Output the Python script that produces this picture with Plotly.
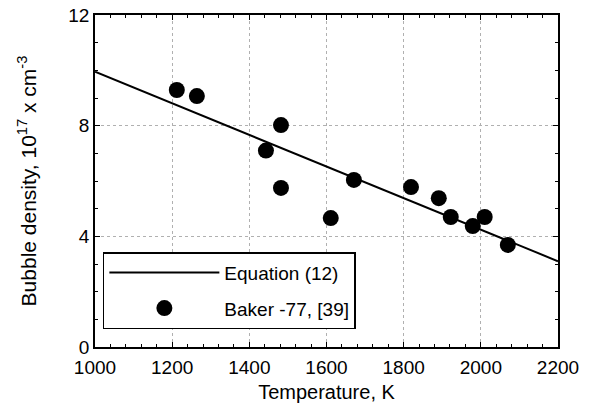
import plotly.graph_objects as go

# Equation (12) line endpoints
eq_temp = [1000, 2200]
eq_density = [9.95, 3.1]

# Baker -77, [39] data
baker_temp = [1212, 1264, 1443, 1482, 1482, 1611, 1671, 1819, 1891, 1922, 1979, 2010, 2070]
baker_density = [9.29, 9.07, 7.10, 8.02, 5.75, 4.66, 6.04, 5.78, 5.38, 4.70, 4.37, 4.70, 3.69]

x_ticks = [1000, 1200, 1400, 1600, 1800, 2000, 2200]
y_ticks = [0, 4, 8, 12]

FONT = "Liberation Sans, Arial, sans-serif"

fig = go.Figure()
fig.add_trace(go.Scatter(
    x=eq_temp, y=eq_density, mode="lines",
    line=dict(color="black", width=2),
    name="Equation (12)", legendgroup="a",
))
fig.add_trace(go.Scatter(
    x=baker_temp, y=baker_density, mode="markers",
    marker=dict(color="black", size=16, symbol="circle"),
    name="Baker -77, [39]", legendgroup="b",
))

axis_common = dict(
    showline=True, linecolor="black", linewidth=1.5, mirror="ticks",
    ticks="inside", ticklen=5, tickwidth=1, tickcolor="black",
    showgrid=True, gridcolor="#b0b0b0", griddash="dot", gridwidth=1,
    zeroline=False,
    tickfont=dict(family=FONT, size=19, color="black"),
)

fig.update_xaxes(
    range=[1000, 2200], tickvals=x_ticks, ticktext=[str(v) for v in x_ticks],
    ticklabelstandoff=2, automargin="left+right",
    title=dict(text="Temperature, K", font=dict(family=FONT, size=20, color="black"), standoff=8),
    minor=dict(dtick=40, ticks="inside", ticklen=3, tickcolor="black", showgrid=False),
    **axis_common,
)
fig.update_yaxes(
    range=[0, 12], tickvals=y_ticks, ticktext=[str(v) for v in y_ticks],
    automargin="left",
    title=dict(text="Bubble density, 10<sup>17</sup> x cm<sup>-3</sup>",
               font=dict(family=FONT, size=21, color="black"), standoff=26),
    minor=dict(dtick=1, ticks="inside", ticklen=3, tickcolor="black", showgrid=False),
    **axis_common,
)

fig.update_layout(
    width=596, height=412,
    margin=dict(l=95, r=38, t=15, b=65),
    paper_bgcolor="white", plot_bgcolor="white",
    showlegend=True,
    legend=dict(
        x=0.017, y=0.286, xanchor="left", yanchor="top",
        bgcolor="white", bordercolor="black", borderwidth=1.5,
        font=dict(family=FONT, size=19, color="black"),
        tracegroupgap=8, itemwidth=110,
    ),
)

fig.write_html("out.html")
